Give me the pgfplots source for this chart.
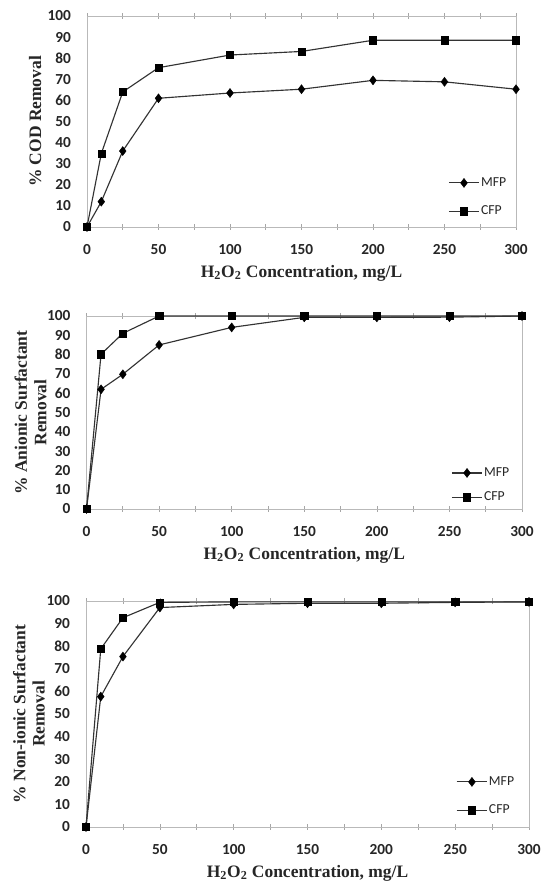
\documentclass[border=0pt]{standalone}
\usepackage{fontspec}
\setmainfont{Liberation Serif}
\newfontfamily\calibri{Carlito}
\usepackage{pgfplots}
\pgfplotsset{compat=1.18}

\pgfplotsset{
  panel/.style={
    scale only axis,
    clip=false,
    xmin=0, xmax=300, ymin=0, ymax=100,
    xtick={0,50,...,300},
    minor xtick={25,75,...,275},
    ytick={0,10,...,100},
    axis line style={draw=gray!55, line width=0.6pt},
    x tick style={draw=gray!70, line width=0.5pt},
    minor x tick style={draw=gray!70, line width=0.5pt},
    major tick length=4pt, minor tick length=4pt,
    tick align=center,
    y tick style={draw=none},
    /pgf/number format/assume math mode=true,
    ticklabel style={font=\calibri\bfseries\fontsize{11.5}{12}\selectfont, text=black!85},
    yticklabel style={xshift=-6.5pt},
    xticklabel style={yshift=-7.5pt},
    label style={font=\bfseries\fontsize{13.1}{14.5}\selectfont, text=black!85},
    xlabel={H\textsubscript{2}O\textsubscript{2} Concentration, mg/L},
    xlabel style={at={(axis description cs:0.5,0)}, anchor=center, yshift=-34.5pt},
    legend image code/.code={\draw[mark repeat=2,mark phase=2,#1] plot coordinates {(0cm,0cm) (0.4cm,0cm) (0.8cm,0cm)};},
    legend style={draw=none, fill=none, inner sep=0pt, anchor=west,
      font=\calibri\fontsize{10.3}{10}\selectfont, text=black!85,
      nodes={inner sep=1pt}},
    legend cell align=left,
  },
  mfp/.style={color=black!80, line width=0.85pt, mark=diamond*, mark size=3.4pt, mark options={fill=black, draw=black, line width=0.3pt}},
  cfp/.style={color=black!80, line width=0.85pt, mark=square*, mark size=2.7pt, mark options={fill=black, draw=black, line width=0.3pt}},
}

\begin{document}
\begin{tikzpicture}
\useasboundingbox (0,0) rectangle (408pt,-663pt);

% Panel 1: COD
\begin{axis}[panel,
  at={(65.25pt,-170.25pt)}, anchor=south west,
  width=321.75pt, height=158.25pt,
  ylabel={\% COD Removal},
  ylabel style={at={(axis description cs:-0.121,0.5)}, anchor=center},
  legend style={at={(axis description cs:0.8415,0.142)}, row sep=11pt},
]
\addplot[mfp] coordinates {(0,0) (10,12) (25,36) (50,61) (100,63.5) (150,65.3) (200,69.5) (250,68.8) (300,65.3)};
\addlegendentry{MFP}
\addplot[cfp] coordinates {(0,0) (10,34.8) (25,64) (50,75.5) (100,81.5) (150,83.2) (200,88.5) (250,88.5) (300,88.5)};
\addlegendentry{CFP}
\end{axis}

% Panel 2: Anionic surfactant
\begin{axis}[panel,
  at={(64.9pt,-381.75pt)}, anchor=south west,
  width=326.6pt, height=144.75pt,
  ylabel={\% Anionic Surfactant\\Removal},
  ylabel style={at={(axis description cs:-0.1286,0.5)}, anchor=center, align=center},
  legend style={at={(axis description cs:0.837,0.124)}, row sep=8pt},
]
\addplot[mfp] coordinates {(0,0) (10,62) (25,69.8) (50,85) (100,94.1) (150,99.3) (200,99.3) (250,99.4) (300,100)};
\addlegendentry{MFP}
\addplot[cfp] coordinates {(0,0) (10,80.2) (25,91) (50,100) (100,100) (150,100) (200,100) (250,100) (300,100)};
\addlegendentry{CFP}
\end{axis}

% Panel 3: Non-ionic surfactant
\begin{axis}[panel,
  at={(64.5pt,-620.25pt)}, anchor=south west,
  width=332.25pt, height=169.5pt,
  ylabel={\% Non-ionic Surfactant\\Removal},
  ylabel style={at={(axis description cs:-0.1287,0.5)}, anchor=center, align=center},
  legend style={at={(axis description cs:0.835,0.137)}, row sep=11pt},
]
\addplot[mfp] coordinates {(0,0) (10,57.7) (25,75.4) (50,97.1) (100,98.5) (150,99) (200,99) (250,99.4) (300,99.6)};
\addlegendentry{MFP}
\addplot[cfp] coordinates {(0,0) (10,78.8) (25,92.6) (50,99.4) (100,99.6) (150,99.6) (200,99.6) (250,99.6) (300,99.6)};
\addlegendentry{CFP}
\end{axis}
\end{tikzpicture}
\end{document}
